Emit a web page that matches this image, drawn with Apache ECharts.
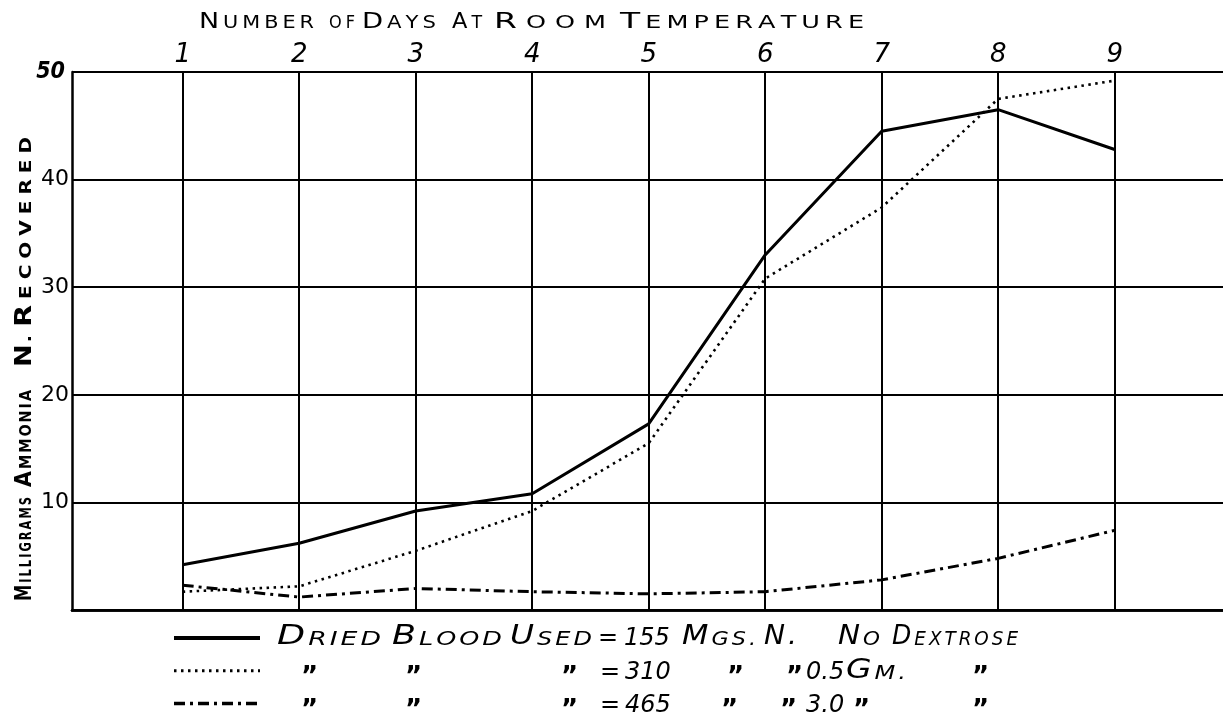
<!DOCTYPE html>
<html>
<head>
<meta charset="utf-8">
<script src="https://cdn.jsdelivr.net/npm/echarts@6/dist/echarts.min.js"></script>
<style>
  html, body { margin: 0; padding: 0; background: #fff; }
  #chart { width: 1223px; height: 720px; }
</style>
</head>
<body>
<div id="chart"></div>
<script>
// Days at room temperature and ammonia N recovered (mg)
const days = [1, 2, 3, 4, 5, 6, 7, 8, 9];
const noDextrose = [4.2, 6.2, 9.2, 10.8, 17.3, 33.0, 44.5, 46.5, 42.8];
const halfGram   = [1.7, 2.2, 5.5, 9.2, 15.5, 30.8, 37.4, 47.5, 49.2];
const threeGram  = [2.3, 1.2, 2.0, 1.7, 1.5, 1.7, 2.8, 4.8, 7.4];
const seriesNames = ['155 mgs. N, no dextrose', '310 mgs. N, 0.5 gm.', '465 mgs. N, 3.0 gm.'];
const yTicks = [0, 10, 20, 30, 40, 50];

const pairs = vals => days.map((d, i) => [d, vals[i]]);

const FONT = 'DejaVu Sans';
const measureCtx = document.createElement('canvas').getContext('2d');
function textWidth(ch, size, weight, style) {
  measureCtx.font = `${style} ${weight} ${size}px "${FONT}"`;
  return measureCtx.measureText(ch).width;
}

// Hand lettering: spread the letters of a word between x0 and x1 on a baseline.
// First letter large when bigFirst, others small (small caps); letters are
// widened or narrowed a little so the gaps stay even.
function letterWord(word, x0, x1, base, o) {
  const letters = word.split('');
  const sizes = letters.map((c, i) => (o.bigFirst && i === 0) || o.allBig ? o.big : o.small);
  const widths = letters.map((c, i) => textWidth(c, sizes[i], o.weight || 'normal', o.style || 'normal'));
  const W = widths.reduce((a, b) => a + b, 0);
  const n = letters.length;
  const span = x1 - x0;
  let scale = n > 1 ? (span - o.gap * (n - 1)) / W : span / W;
  scale = Math.max(o.minScale || 0.6, Math.min(o.maxScale || 1.5, scale));
  const gap = n > 1 ? (span - W * scale) / (n - 1) : 0;
  const out = [];
  let x = x0;
  letters.forEach((c, i) => {
    out.push({
      type: 'text', x: x, y: base - 0.36 * sizes[i], scaleX: scale, scaleY: 1, silent: true,
      style: {
        text: c, fill: '#000', align: 'left', verticalAlign: 'middle',
        fontFamily: FONT, fontSize: sizes[i], fontWeight: o.weight || 'normal', fontStyle: o.style || 'normal'
      }
    });
    x += widths[i] * scale + gap;
  });
  return out;
}
function plainText(txt, x, base, size, o) {
  return {
    type: 'text', x: x, y: base - 0.36 * size, silent: true,
    style: {
      text: txt, fill: '#000', align: 'left', verticalAlign: 'middle',
      fontFamily: FONT, fontSize: size, fontStyle: (o && o.style) || 'normal', fontWeight: (o && o.weight) || 'normal'
    }
  };
}

// Title words along the top: [word, x0, x1, bigFirst]
const titleWords = [['NUMBER', 199, 314, true], ['OF', 329, 355, false], ['DAYS', 362, 436, true],
                    ['AT', 452, 482, true], ['ROOM', 494, 606, true], ['TEMPERATURE', 620, 864, true]];
const titleStyle = { big: 22, small: 17, gap: 4, maxScale: 1.5 };

// Vertical axis name, bottom to top: [word, yStart, yEnd]
const yNameWords = [['MILLIGRAMS', 601, 497], ['AMMONIA', 487, 390], ['N.', 367, 335], ['RECOVERED', 327, 137]];
const yNameStyle = { big: 23, small: 16, gap: 2, weight: 'bold', bigFirst: true, minScale: 0.7, maxScale: 1.25 };

// Legend wording per row; spread words as [word, x0, x1, bigFirst], marks as [text, x]
const DQ = '\u201D';
const legendRows = [
  [['DRIED', 277, 381, true], ['BLOOD', 392, 502, true], ['USED', 510, 592, true], ['=', 598], ['155', 624],
   ['MGS.', 682, 756, true], ['N.', 764, 797, 'all'], ['NO', 838, 880, true], ['DEXTROSE', 892, 1018, true]],
  [[DQ, 301], [DQ, 405], [DQ, 561], ['=', 600], ['310', 625], [DQ, 727], [DQ, 786], ['0.5', 806], ['GM.', 846, 906, true], [DQ, 972]],
  [[DQ, 301], [DQ, 405], [DQ, 561], ['=', 600], ['465', 625], [DQ, 721], [DQ, 780], ['3.0', 806], [DQ, 853], [DQ, 972]]
];
const legendBase = [647, 681, 714];
const legendStyle = { big: 26, small: 19, gap: 3, style: 'italic', maxScale: 1.5, minScale: 0.75 };

const graphics = [];
titleWords.forEach(([w, a, b, big]) => {
  graphics.push(...letterWord(w, a, b, 30, Object.assign({ bigFirst: big }, titleStyle)));
});
const yNameChildren = [];
yNameWords.forEach(([w, y0, y1]) => {
  yNameChildren.push(...letterWord(w, 610 - y0, 610 - y1, 33, yNameStyle));
});
graphics.push({ type: 'group', x: 0, y: 610, rotation: Math.PI / 2, silent: true, children: yNameChildren });
legendRows.forEach((row, r) => {
  row.forEach(tok => {
    if (tok.length === 4) {
      const o = Object.assign({}, legendStyle, { bigFirst: tok[3] === true, allBig: tok[3] === 'all' });
      graphics.push(...letterWord(tok[0], tok[1], tok[2], legendBase[r], o));
    } else if (tok[0] === DQ) {
      graphics.push(plainText(tok[0], tok[1], legendBase[r] + 7, 26, { weight: 'bold' }));
    } else {
      graphics.push(plainText(tok[0], tok[1], legendBase[r], 24, { style: 'italic' }));
    }
  });
});

const chart = echarts.init(document.getElementById('chart'), null, { renderer: 'canvas' });
chart.setOption({
  backgroundColor: '#fff',
  animation: false,
  grid: { left: 72, right: 0, top: 72, bottom: 110 },
  xAxis: [
    {
      type: 'value', position: 'top', min: 0.05, max: 9.93,
      axisLine: { show: true, lineStyle: { color: '#000', width: 2.5 } },
      axisTick: { show: false },
      splitLine: { show: false },
      axisLabel: {
        customValues: days, color: '#000', fontFamily: FONT, fontStyle: 'italic',
        fontSize: 26, margin: 4
      }
    },
    {
      type: 'value', position: 'bottom', min: 0.05, max: 9.93,
      axisLine: { show: true, lineStyle: { color: '#000', width: 2.5 } },
      axisTick: { show: false },
      splitLine: { show: false },
      axisLabel: { show: false }
    }
  ],
  yAxis: {
    type: 'value', min: yTicks[0], max: yTicks[yTicks.length - 1], interval: 10,
    axisLine: { show: true, lineStyle: { color: '#000', width: 2.5 } },
    axisTick: { show: false },
    splitLine: { show: true, lineStyle: { color: '#000', width: 2 } },
    axisLabel: {
      color: '#000', margin: 3,
      formatter: v => v === 0 ? '' : (v === 50 ? '{t|' + v + '}' : '{n|' + v + '}'),
      rich: {
        t: { fontFamily: 'DejaVu Sans Condensed', fontWeight: 'bold', fontStyle: 'italic', fontSize: 23, color: '#000', padding: [0, 4, 0, 0] },
        n: { fontFamily: FONT, fontSize: 22, color: '#000' }
      }
    }
  },
  legend: {
    orient: 'vertical', left: 172, top: 632, padding: 0,
    itemWidth: 86, itemHeight: 12, itemGap: 22,
    formatter: () => '',
    selectedMode: false,
    itemStyle: { opacity: 0 },
    data: [
      { name: seriesNames[0], lineStyle: { width: 4 } },
      { name: seriesNames[1], lineStyle: { width: 3 } },
      { name: seriesNames[2], lineStyle: { width: 3.5 } }
    ]
  },
  graphic: graphics,
  series: [
    {
      name: seriesNames[0], type: 'line', data: pairs(noDextrose), symbol: 'none',
      lineStyle: { color: '#000', width: 3 }, itemStyle: { color: '#000' },
      markLine: {
        silent: true, symbol: 'none', label: { show: false },
        lineStyle: { color: '#000', width: 2, type: 'solid' },
        data: days.map(d => ({ xAxis: d }))
      },
      z: 3
    },
    {
      name: seriesNames[1], type: 'line', data: pairs(halfGram), symbol: 'none',
      lineStyle: { color: '#000', width: 2.6, type: [2.5, 4.5] }, itemStyle: { color: '#000' },
      z: 3
    },
    {
      name: seriesNames[2], type: 'line', data: pairs(threeGram), symbol: 'none',
      lineStyle: { color: '#000', width: 3, type: [11, 5, 3, 5] }, itemStyle: { color: '#000' },
      z: 3
    }
  ]
});
</script>
</body>
</html>
